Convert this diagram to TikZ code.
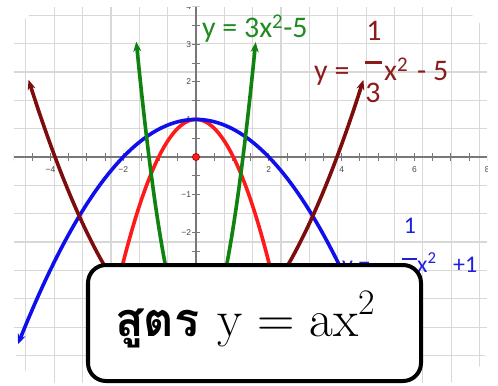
\documentclass[tikz,border=0pt]{standalone}
\usepackage{fontspec}
\usetikzlibrary{arrows.meta}
\newfontfamily\thaifont[Script=Thai]{Loma}
\newfontfamily\labfont{Carlito}
\newfontfamily\tickfont{Liberation Sans}
\definecolor{cblue}{RGB}{15,15,235}
\definecolor{cred}{RGB}{255,25,25}
\definecolor{cgreen}{RGB}{15,130,15}
\definecolor{cdark}{RGB}{125,12,12}
\definecolor{ldark}{RGB}{140,28,28}
\definecolor{lblue}{RGB}{30,30,225}
\definecolor{lgreen}{RGB}{30,140,30}
\definecolor{gridc}{RGB}{216,216,216}
\definecolor{axisc}{RGB}{120,120,120}
\definecolor{tickc}{RGB}{70,70,70}
\begin{document}
\begin{tikzpicture}[x=1bp,y=-1bp,
  curve/.style={line width=3.6bp, line cap=round},
  lab/.style={font=\labfont\fontsize{30}{32}\selectfont, inner sep=0pt},
  blab/.style={font=\labfont\fontsize{24}{26}\selectfont, inner sep=0pt, text=lblue},
  ticklab/.style={font=\tickfont\fontsize{8.5}{9}\selectfont, text=tickc, inner sep=0pt}]
\useasboundingbox (0,0) rectangle (498,385);
\fill[white] (0,0) rectangle (498,385);
\begin{scope}[shift={(196,157)}, x=36.4bp, y=37.6bp]
  \clip[rounded corners=40bp] (-5,-6) rectangle (8,4);
  \draw[gridc, line width=1.1bp] (-5,-6) grid (8,4);
  \draw[axisc, line width=1.1bp] (-5,0) -- (8,0);
  \draw[axisc, line width=1.1bp] (0,-6) -- (0,4);
  \foreach \t in {-5,-4.5,...,8} \draw[axisc, line width=1bp] (\t,-0.1) -- (\t,0.1);
  \foreach \t in {-6,-5.5,...,4} \draw[axisc, line width=1bp] (-0.12,\t) -- (0.12,\t);
  \foreach \t/\s in {-4/−4,-2/−2,2/2,4/4,6/6,8/8}
    \node[ticklab] (xl\t) at (\t,-0.33) {\s};
  \foreach \t/\s in {4/4,3/3,2/2,1/1,-1/−1,-2/−2}
    \node[ticklab, anchor=east] (yl\t) at (-0.13,\t) {\s};
  % curves
  \draw[curve, cred] plot[domain=-2.3:2.3, samples=80] (\x,{-0.95*\x*\x+1});
  \draw[curve, cblue, arrows={Stealth[length=10bp,width=8bp]-}] plot[domain=-4.89:4.0, samples=90] (\x,{-0.25*\x*\x+1});
  \draw[curve, cdark, arrows={Stealth[length=10bp,width=8bp]-Stealth[length=10bp,width=8bp]}] plot[domain=-4.6:4.6, samples=90] (\x,{\x*\x/3-5});
  \draw[curve, cgreen, arrows={Stealth[length=10bp,width=8bp]-Stealth[length=10bp,width=8bp]}] plot[domain=-1.64:1.64, samples=80] (\x,{3*\x*\x-5});
  \fill[cred, draw=red!60!black, line width=0.6bp] (0,0) circle (3.6bp);
\end{scope}
% green label
\node[lab, text=lgreen, anchor=base west] (glab) at (202,37) {y = 3x\textsuperscript{2}-5};
% dark red label
\node[lab, text=ldark, anchor=base west] (dy) at (314,80) {y =};
\node[lab, text=ldark, anchor=base] (dn) at (374,40) {1};
\node[lab, text=ldark, anchor=base] (dd) at (373,102) {3};
\coordinate (dbl) at (365,62);
\coordinate (dbr) at (382,62);
\draw[ldark, line width=3bp] (dbl) -- (dbr);
\node[lab, text=ldark, anchor=base west] (dx) at (384,80) {x\textsuperscript{2}};
\node[lab, text=ldark, anchor=base west] (d5) at (417,80) {- 5};
% blue label
\node[blab, anchor=base west] (by) at (342,272) {y =};
\node[blab, anchor=base] (bn) at (410,233) {1};
\coordinate (bbl) at (402,259);
\coordinate (bbr) at (417,259);
\draw[lblue, line width=2.6bp] (bbl) -- (bbr);
\node[blab, anchor=base west] (bx) at (417,272) {x\textsuperscript{2}};
\node[blab, anchor=base west] (bp) at (453,272) {+1};
% formula box
\node[draw=black, fill=white, line width=4bp, rounded corners=18bp,
      minimum width=333bp, minimum height=116bp, inner sep=0pt] (box) at (254.5,323) {};
\node[anchor=base west, inner sep=0pt] (formula) at (115,336)
  {{\thaifont\bfseries\fontsize{47}{50}\selectfont สูตร}\hspace{18bp}{\fontsize{52}{56}\selectfont y\hspace{15bp}=\hspace{15bp}ax\raisebox{0.42em}{\fontsize{36}{40}\selectfont 2}}};
\end{tikzpicture}
\end{document}
